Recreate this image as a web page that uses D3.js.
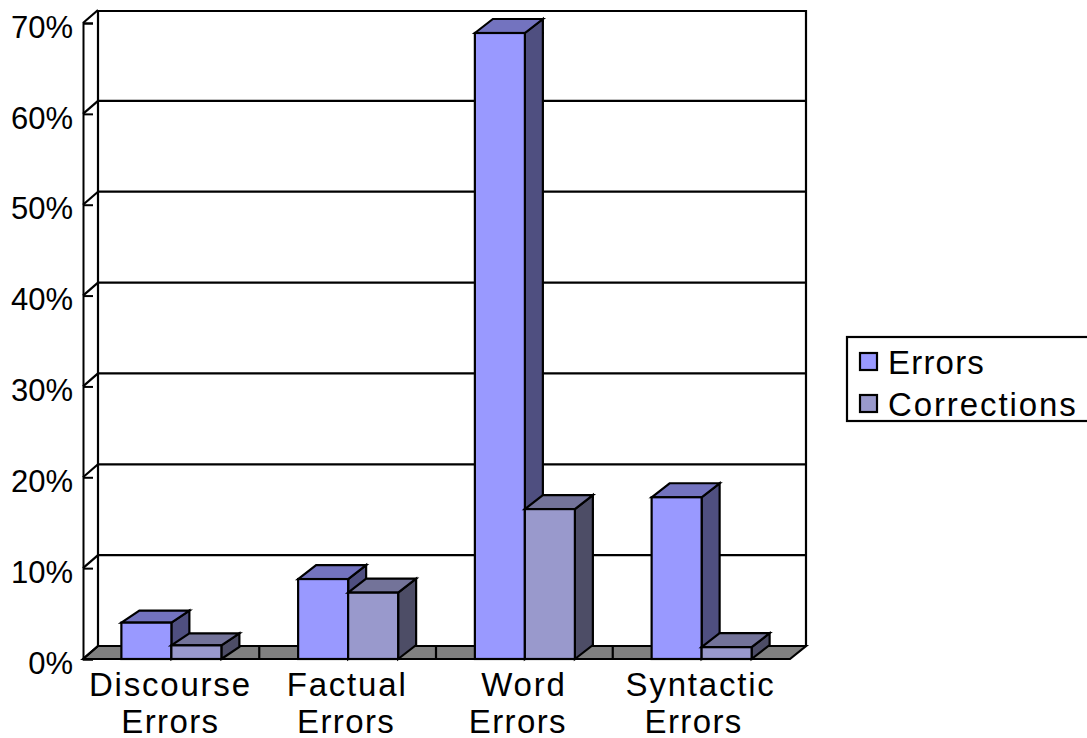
<!DOCTYPE html>
<html>
<head>
<meta charset="utf-8">
<script src="https://cdn.jsdelivr.net/npm/d3@7/dist/d3.min.js"></script>
<style>
html,body{margin:0;padding:0;background:#fff;overflow:hidden}
svg{display:block}
text{font-family:"Liberation Sans",Arial,sans-serif;fill:#000}
</style>
</head>
<body>
<svg id="chart" width="1087" height="738"></svg>
<script>
const categoryLines = [["Discourse","Errors"],["Factual","Errors"],["Word","Errors"],["Syntactic","Errors"]];
const categories = categoryLines.map(l => l.join(" "));
const seriesNames = ["Errors","Corrections"];
const errorsValues = [4.0, 8.8, 68.9, 17.8];
const correctionsValues = [1.5, 7.3, 16.5, 1.3];
const yTicks = [0,10,20,30,40,50,60,70];

const frontColor = {Errors:"#9999ff", Corrections:"#9999cc"};
const topColor   = {Errors:"#7373bf", Corrections:"#737399"};
const sideColor  = {Errors:"#4f4f80", Corrections:"#4d4d66"};

const svg = d3.select("#chart");
const wallDx = 15, wallDy = -13;   // oblique offset of the back wall
const barDx = 18;                  // oblique offset of the column depth
const barDepths = [-12,-14,-14,-14];
const labelSize = 33;
const tickSize = 31;

const x = d3.scaleBand().domain(categories).range([83,790]);
const barW = 50;
const y = d3.scaleLinear().domain([0,70]).range([659,23]);
const line = d3.line();
const applyStroke = s => s.attr("stroke","#000").attr("stroke-width",2.2).attr("stroke-linejoin","miter");

// Floor
applyStroke(svg.append("path")
  .attr("d", line([[x.range()[0],y(0)],[x.range()[0]+wallDx,y(0)+wallDy],[x.range()[1]+wallDx+1,y(0)+wallDy],[x.range()[1],y(0)]])+"Z")
  .attr("fill","#808080"));

// Back wall outline and gridlines
const g = svg.append("g").attr("fill","none");
applyStroke(g.append("path")
  .attr("d", line([[x.range()[0]+wallDx,y(0)+wallDy],[x.range()[0]+wallDx,y(70)+wallDy+1],[x.range()[1]+wallDx+1,y(70)+wallDy+1],[x.range()[1]+wallDx+1,y(0)+wallDy]])));
yTicks.filter(t => t>0 && t<70).forEach(t => {
  applyStroke(g.append("line")).attr("x1",x.range()[0]+wallDx).attr("x2",x.range()[1]+wallDx+1)
    .attr("y1",y(t)+wallDy).attr("y2",y(t)+wallDy);
});
// Diagonals along the side wall
yTicks.forEach(t => {
  applyStroke(g.append("line")).attr("x1",x.range()[0]).attr("x2",x.range()[0]+wallDx)
    .attr("y1",y(t)).attr("y2",y(t)+wallDy);
});

// Category separators across the floor
categories.slice(1).forEach(c => {
  applyStroke(g.append("line")).attr("x1",x(c)-0.5).attr("x2",x(c)-0.5).attr("y1",y(0)+wallDy).attr("y2",y(0));
});

// Value axis with inward ticks
const axis = d3.axisLeft(y).tickValues(yTicks).tickSize(-10).tickPadding(10).tickFormat(d => d+"%");
const ax = svg.append("g").attr("transform",`translate(${x.range()[0]},0)`).call(axis);
ax.selectAll("path,line").attr("stroke","#000").attr("stroke-width",2);
ax.selectAll("text").attr("font-size",tickSize).attr("font-family",'"Liberation Sans",Arial,sans-serif').attr("fill","#000").attr("dy","0.46em");

// Front edge of the floor
applyStroke(svg.append("line")).attr("x1",x.range()[0]).attr("x2",x.range()[1]).attr("y1",y(0)).attr("y2",y(0));

// Columns
function drawBar(x0,v,name,barDy){
  const x1 = x0+barW, yt = y(v), yb = y(0);
  const b = svg.append("g");
  applyStroke(b.append("path").attr("fill",sideColor[name])
    .attr("d",line([[x1,yb],[x1+barDx,yb+barDy],[x1+barDx,yt+barDy],[x1,yt]])+"Z"));
  applyStroke(b.append("path").attr("fill",topColor[name])
    .attr("d",line([[x0,yt],[x0+barDx,yt+barDy],[x1+barDx,yt+barDy],[x1,yt]])+"Z"));
  applyStroke(b.append("rect").attr("fill",frontColor[name])
    .attr("x",x0).attr("y",yt).attr("width",barW).attr("height",yb-yt));
}
categories.forEach((c,i) => {
  const cx = x(c)+x.bandwidth()/2;
  drawBar(cx-barW,errorsValues[i],"Errors",barDepths[i]);
  drawBar(cx,correctionsValues[i],"Corrections",barDepths[i]);
});

// Category labels; the second line sits slightly left under the outer groups
const secondLineShift = [0,-1,-6,-7];
categories.forEach((c,i) => {
  const cx = x(c)+x.bandwidth()/2 - 1;
  categoryLines[i].forEach((t,j) => {
    svg.append("text").attr("x",cx+(j?secondLineShift[i]:0)).attr("y",696+j*37).attr("text-anchor","middle")
      .attr("font-size",labelSize).attr("letter-spacing",j?"1.4px":"1.8px").text(t);
  });
});

// Legend
applyStroke(svg.append("rect")).attr("x",847).attr("y",337).attr("width",260).attr("height",84).attr("fill","#fff");
seriesNames.forEach((n,i) => {
  const cy = 362+i*42;
  applyStroke(svg.append("rect")).attr("x",860).attr("y",cy-9).attr("width",17).attr("height",17).attr("fill",frontColor[n]);
  svg.append("text").attr("x",888).attr("y",cy+12).attr("font-size",labelSize).attr("letter-spacing",i?"1.9px":"1.2px").text(n);
});
</script>
</body>
</html>
